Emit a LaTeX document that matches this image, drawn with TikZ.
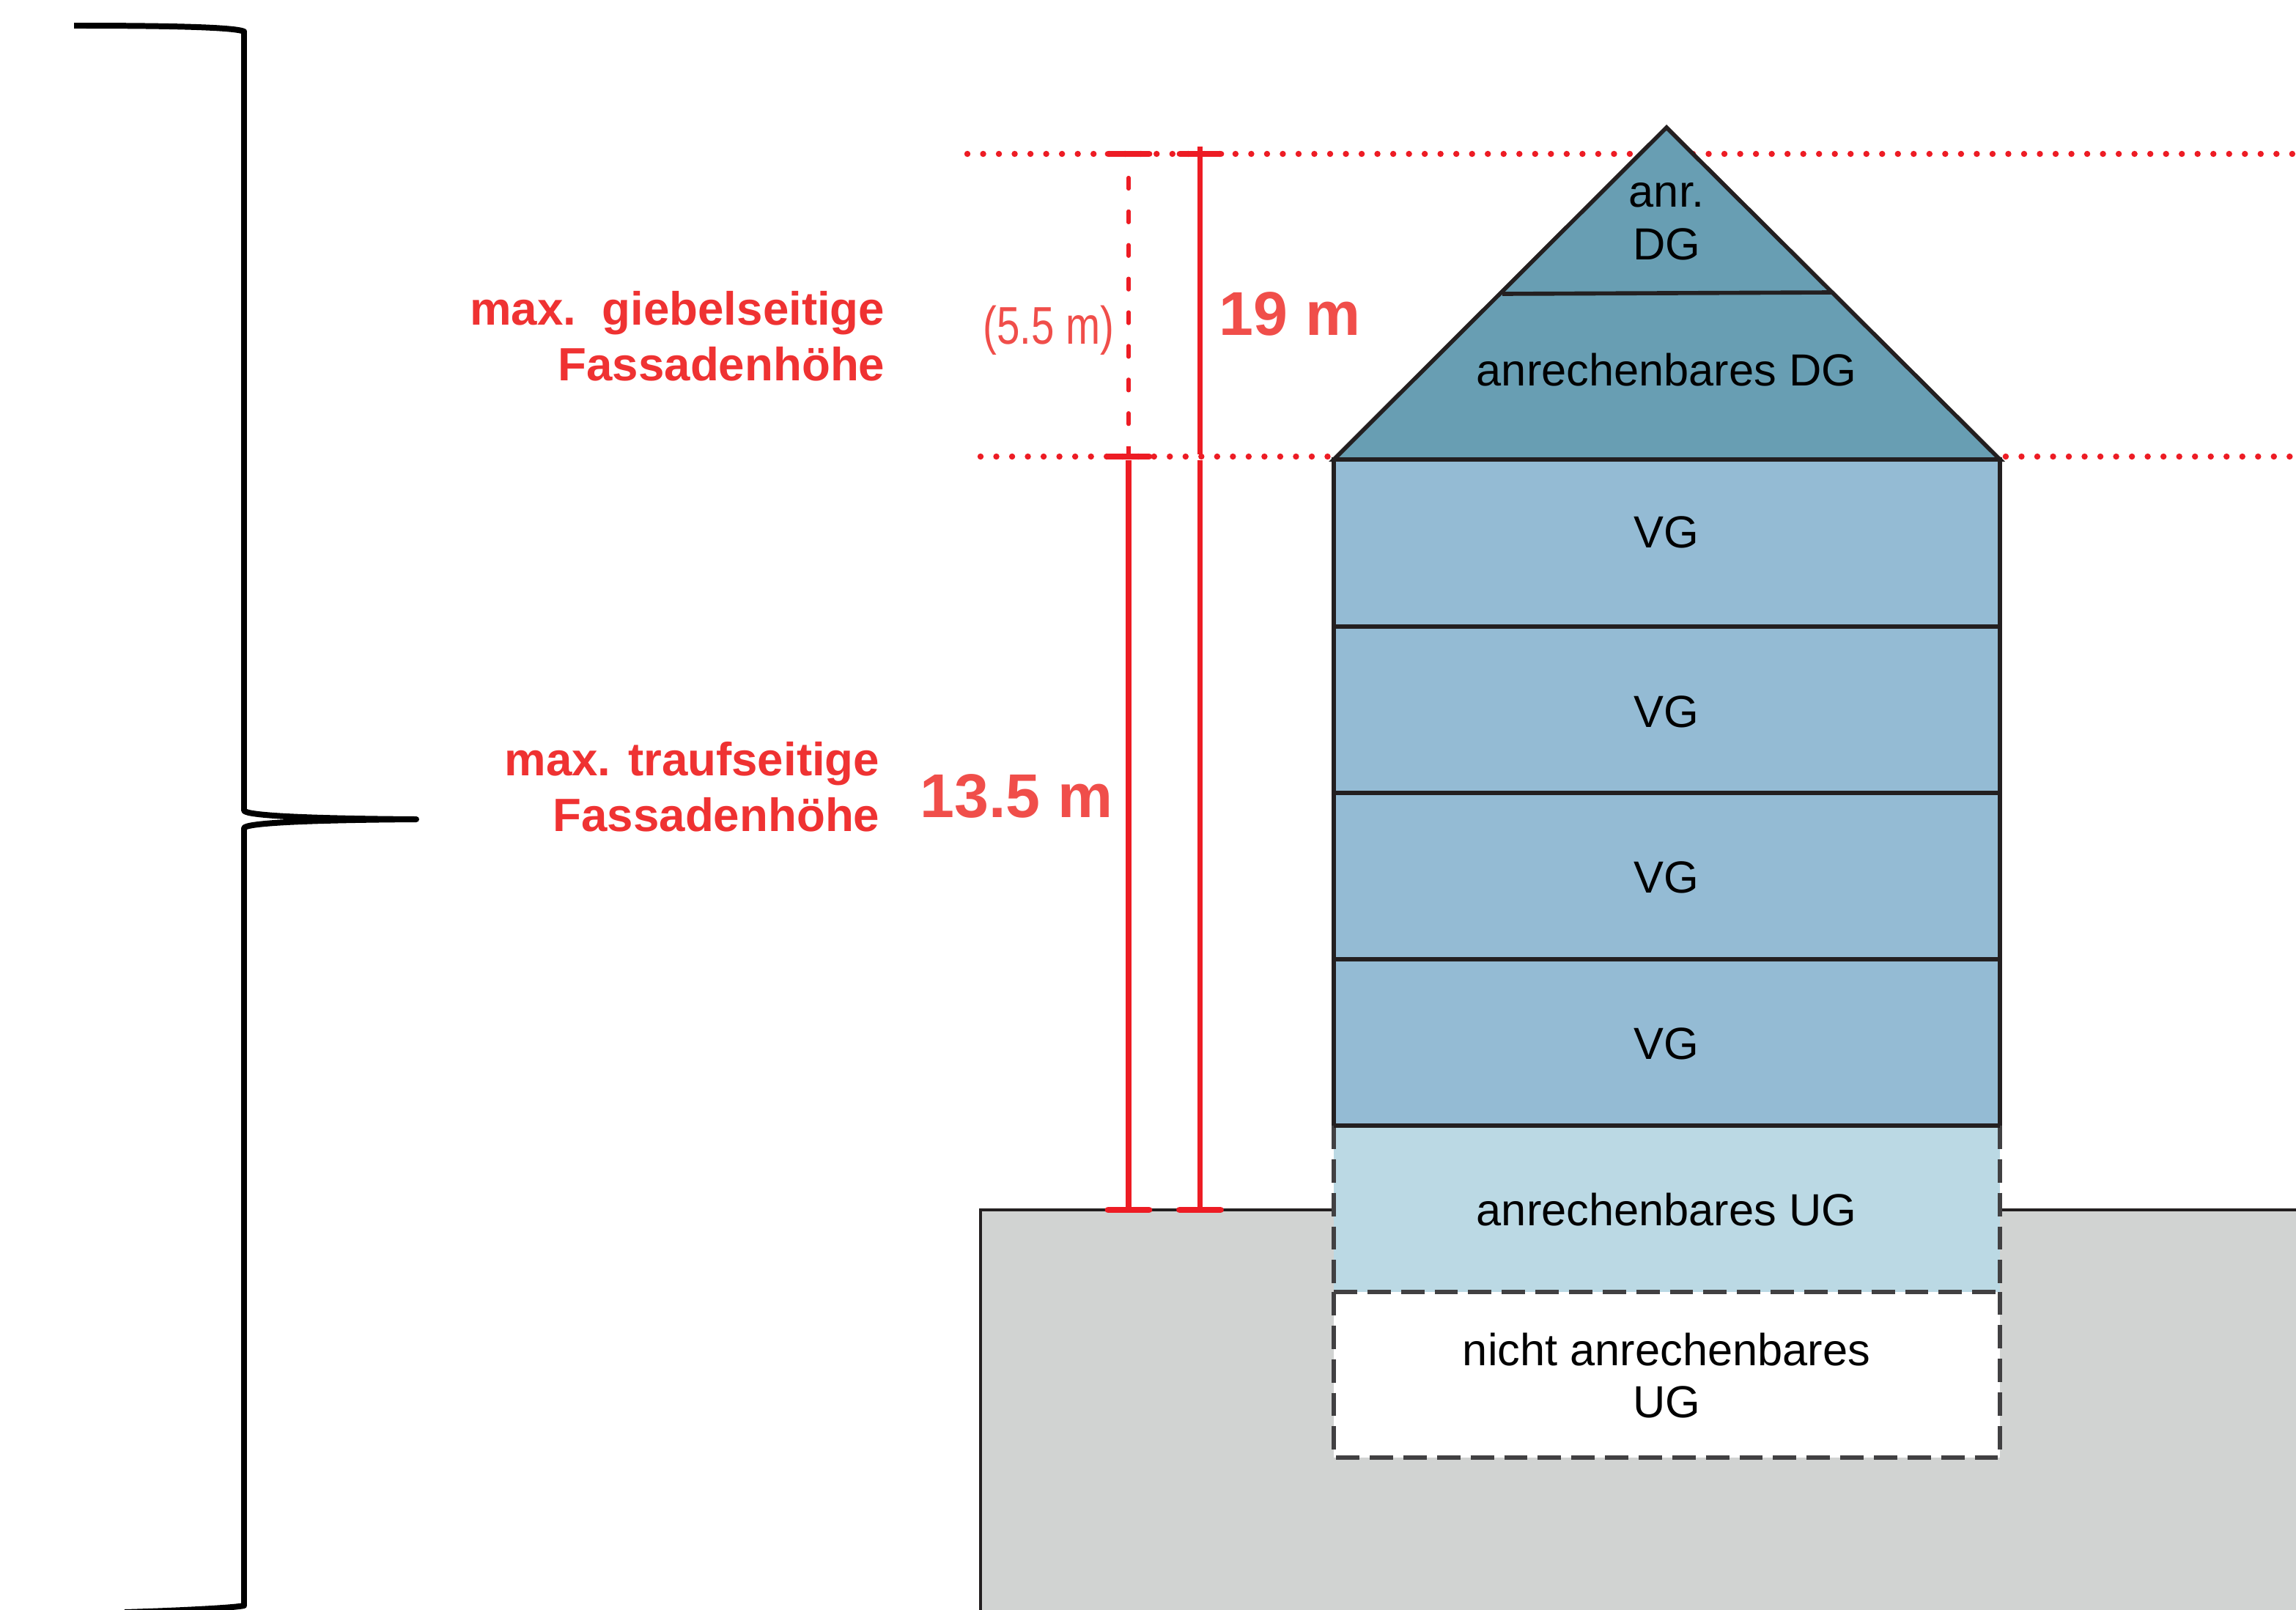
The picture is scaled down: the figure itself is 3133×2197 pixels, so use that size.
\documentclass[tikz,border=0pt]{standalone}
\usepackage{fontspec}
\setmainfont{Liberation Sans}
\definecolor{dgblue}{HTML}{689EB3}
\definecolor{vgblue}{HTML}{94BBD4}
\definecolor{ugblue}{HTML}{BBD9E4}
\definecolor{soil}{HTML}{D1D3D2}
\definecolor{wall}{HTML}{231F20}
\definecolor{dashwall}{HTML}{414042}
\definecolor{dimred}{HTML}{ED1C24}
\definecolor{labelred}{HTML}{F04E4A}
\definecolor{sidered}{HTML}{EF3232}

\begin{document}
\begin{tikzpicture}[x=0.01cm,y=-0.01cm,
                    floorline/.style={draw=wall,line width=1.6pt},
                    ugline/.style={draw=dashwall,line width=1.6pt,dash pattern=on 9.07pt off 3.97pt},
                    floorlabel/.style={align=center,text=black,inner sep=0pt,
                                       font=\fontsize{17.45}{20.4}\selectfont},
                    sidelabel/.style={align=right,anchor=east,text=sidered,inner sep=0pt,
                                      font=\fontsize{18.1}{21.5}\selectfont\bfseries},
                    sizelabel/.style={text=labelred,inner sep=0pt,
                                      font=\fontsize{24}{28}\selectfont\bfseries},
                    levelline/.style={dimred,line width=2.4pt,line cap=round,dash pattern=on 0pt off 6.12pt},
                    dimline/.style={dimred,line width=2.2pt},
                    dimtick/.style={dimred,line width=2.5pt,line cap=round}]
   \clip (0,0) rectangle (3133,2197);
   % ground
   \draw [fill=soil,draw=wall,line width=1.1pt] (1338,1651) rectangle (3200,2260);
   % level lines
   \coordinate (topleft) at (1320,210);
   \coordinate (topright) at (3133,210);
   \coordinate (eavesleft) at (1338,623);
   \coordinate (eavesright) at (3133,623);
   \draw [levelline] (topleft) -- (topright);
   \draw [levelline] (eavesleft) -- (eavesright);
   % house
   \coordinate (apex) at (2274,174);
   \coordinate (roofleft) at (1820,627);
   \coordinate (roofright) at (2729,627);
   \draw [floorline,fill=dgblue] (roofleft) -- (apex) -- (roofright) -- cycle;
   \draw [floorline] (2050,401) -- (2500,399);
   \draw [floorline,fill=vgblue] (1820,627) rectangle (2729,855);
   \draw [floorline,fill=vgblue] (1820,855) rectangle (2729,1082);
   \draw [floorline,fill=vgblue] (1820,1082) rectangle (2729,1309);
   \draw [floorline,fill=vgblue] (1820,1309) rectangle (2729,1536);
   \fill [ugblue] (1820,1536) rectangle (2729,1763);
   \fill [white] (1820,1763) rectangle (2729,1989);
   \draw [ugline] (1820,1536) -- (1820,1763);
   \draw [ugline] (2729,1536) -- (2729,1763);
   \draw [ugline] (1820,1763) -- (2729,1763);
   \draw [ugline] (1820,1763) -- (1820,1989) -- (2729,1989) -- (2729,1763);
   \draw [floorline] (1820,1536) -- (2729,1536);
   % floor labels
   \node (dgtop) [floorlabel] at (2274,302) {anr.\\DG};
   \node (dgmain) [floorlabel] at (2274,505) {anrechenbares DG};
   \node (vgone) [floorlabel] at (2274,726) {VG};
   \node (vgtwo) [floorlabel] at (2274,971) {VG};
   \node (vgthree) [floorlabel] at (2274,1197) {VG};
   \node (vgfour) [floorlabel] at (2274,1424) {VG};
   \node (ugmain) [floorlabel] at (2274,1651) {anrechenbares UG};
   \node (ugrest) [floorlabel] at (2274,1877) {nicht anrechenbares\\UG};
   % dimension lines
   \coordinate (gabletop) at (1637.5,200);
   \coordinate (gablegap) at (1637.5,620);
   \coordinate (gableresume) at (1637.5,628);
   \coordinate (gablefoot) at (1637.5,1651);
   \coordinate (roofdimtop) at (1540,242.5);
   \coordinate (roofdimfoot) at (1540,582);
   \coordinate (eavesstub) at (1540,609);
   \coordinate (eavestop) at (1540,623);
   \coordinate (eavesresume) at (1540,628);
   \coordinate (eavesfoot) at (1540,1651);
   \draw [dimline] (gabletop) -- (gablegap);
   \draw [dimline] (gableresume) -- (gablefoot);
   \draw [dimred,line width=1.5pt,line cap=round,dash pattern=on 4.25pt off 8.8pt] (roofdimtop) -- (roofdimfoot);
   \draw [dimred,line width=1.5pt] (eavesstub) -- (eavestop);
   \draw [dimline] (eavesresume) -- (eavesfoot);
   \draw [dimtick] ([xshift=-.28cm]1540,210) -- ([xshift=.28cm]1540,210);
   \draw [dimtick] ([xshift=-.28cm]1638,210) -- ([xshift=.28cm]1638,210);
   \draw [dimtick] ([xshift=-.28cm]eavestop) -- ([xshift=.28cm]eavestop);
   \draw [dimtick] ([xshift=-.28cm]eavesfoot) -- ([xshift=.28cm]eavesfoot);
   \draw [dimtick] ([xshift=-.28cm]gablefoot) -- ([xshift=.28cm]gablefoot);
   % red labels
   \node (gablelabel) [sidelabel] at (1208,459) {max.~~giebelseitige\\Fassadenhöhe};
   \node (eaveslabel) [sidelabel] at (1201,1074) {max. traufseitige\\Fassadenhöhe};
   \node (gablesize) [sizelabel] at (1760,428) {19 m};
   \node (eavessize) [sizelabel] at (1387,1086) {13.5 m};
   \node (roofsize) [text=labelred,inner sep=0pt,font=\fontsize{19.6}{23}\selectfont] at (1431,451)
        {\scalebox{0.82}[1.05]{(5.5 m)}};
   % brace
   \coordinate (bracetop) at (101,35);
   \coordinate (bracetip) at (568,1118);
   \coordinate (bracefoot) at (170,2200);
   \draw [black,line width=2.27pt,line join=round]
        (bracetop) .. controls (230,35) and (320,37) .. (333,43) -- (333,1106)
        .. controls (335,1113) and (420,1117) .. (bracetip)
        .. controls (420,1119) and (335,1123) .. (333,1130) -- (333,2191)
        .. controls (320,2194) and (240,2198) .. (bracefoot);
\end{tikzpicture}
\end{document}
